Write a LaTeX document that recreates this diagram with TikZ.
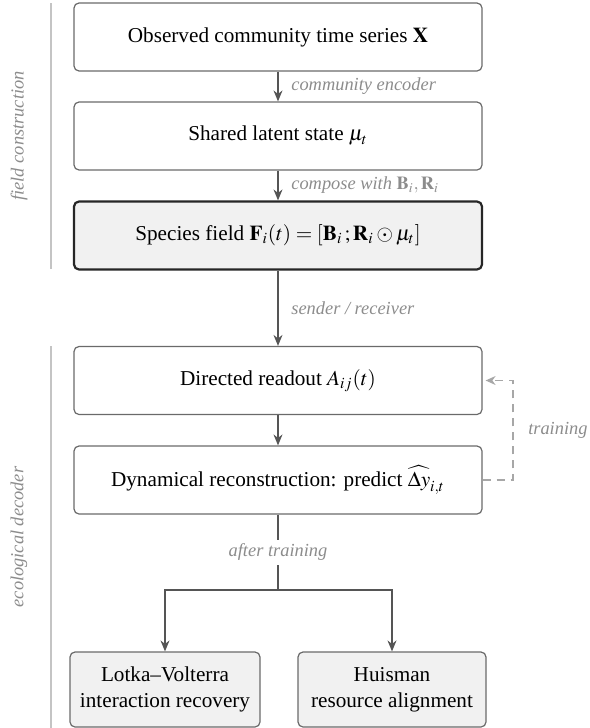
\documentclass[tikz,border=0pt]{standalone}
\usepackage{mathptmx}
\usepackage{fontspec}
\setmainfont{Liberation Serif}
\usetikzlibrary{arrows.meta,positioning}

\definecolor{boxline}{HTML}{6A6A6A}
\definecolor{arrowcol}{HTML}{555555}
\definecolor{labcol}{HTML}{8C8C8C}
\definecolor{barcol}{HTML}{C4C4C4}
\definecolor{boxfill}{HTML}{F1F1F1}

\tikzset{
  stage/.style={draw=boxline, line width=0.6pt, rounded corners=2.5pt, fill=white,
    minimum width=204pt, minimum height=34pt, align=center,
    font=\fontsize{10.6}{13}\selectfont},
  keystage/.style={stage, draw=black!85, line width=1.1pt, fill=boxfill},
  outcome/.style={stage, fill=boxfill, minimum width=94pt, minimum height=37.5pt},
  flow/.style={draw=arrowcol, line width=0.7pt, -{Stealth[length=5.5pt,width=4.5pt]}},
  edgelab/.style={text=labcol, font=\fontsize{9.2}{11}\selectfont\itshape},
  feedback/.style={draw=barcol!85!black, line width=0.6pt, dash pattern=on 4pt off 3pt,
    -{Stealth[length=5pt,width=4.5pt]}, shorten >=1.5pt},
  phasebar/.style={draw=barcol, line width=1.2pt},
}

\begin{document}
\begin{tikzpicture}[x=0.5pt,y=-0.5pt]
    \useasboundingbox (0,0) rectangle (589,728);

    % the field construction stages
    \node[stage] (obs) at (278,37) {Observed community time series $\mathbf{X}$};
    \node[stage] (latent) at (278,136) {Shared latent state $\mu_t$};
    \node[keystage] (field) at (278,235.5)
      {Species field $\mathbf{F}_i(t) = [\mathbf{B}_i\,;\mathbf{R}_i \odot \mu_t]$};

    % the ecological decoder stages
    \node[stage] (readout) at (278,380.5) {Directed readout $A_{ij}(t)$};
    \node[stage] (recon) at (278,480)
      {Dynamical reconstruction: predict $\widehat{\Delta y}_{i,t}$};
    \node[outcome, minimum width=95pt] (lv) at (165,689.5)
      {Lotka--Volterra\\interaction recovery};
    \node[outcome] (huis) at (392,689.5) {Huisman\\resource alignment};

    % main flow
    \draw[flow] (obs) -- node[edgelab, right=3pt] {community encoder} (latent);
    \draw[flow] (latent) -- node[edgelab, right=3pt]
      {compose with $\mathbf{B}_i,\mathbf{R}_i$} (field);
    \draw[flow] (field) -- node[edgelab, right=3pt] {sender / receiver} (readout);
    \draw[flow] (readout) -- (recon);

    % split after training
    \coordinate (split) at (278,590);
    \draw[draw=arrowcol, line width=0.7pt] (recon) --
      node[edgelab, fill=white, inner sep=2pt] {after training} (split);
    \draw[flow] (split) -| (lv);
    \draw[flow] (split) -| (huis);

    % training loop
    \coordinate (loop) at (513,480);
    \draw[feedback] (recon.east) -- (loop) |- (readout.east)
      node[pos=0.25, edgelab, right=4pt] {training};

    % phase bars and their names
    \draw[phasebar] (51,3) -- (51,269);
    \draw[phasebar] (51,346) -- (51,728);
    \node[edgelab, rotate=90] (fcname) at (19,136) {field construction};
    \node[edgelab, rotate=90] (edname) at (19,537) {ecological decoder};
\end{tikzpicture}
\end{document}
